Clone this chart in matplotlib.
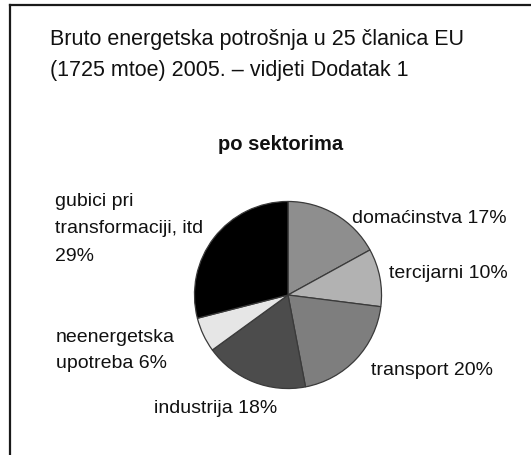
import matplotlib
matplotlib.use("Agg")
import matplotlib.pyplot as plt
from matplotlib.lines import Line2D

W, H = 531, 456
DPI = 100

# Data
sectors = ["domaćinstva", "tercijarni", "transport", "industrija",
           "neenergetska upotreba", "gubici pri transformaciji, itd"]
shares = [17, 10, 20, 18, 6, 29]
colors = ["#8e8e8e", "#b2b2b2", "#7e7e7e", "#4c4c4c", "#e6e6e6", "#000000"]

title_lines = ["Bruto energetska potrošnja u 25 članica EU",
               "(1725 mtoe) 2005. – vidjeti Dodatak 1"]
subtitle = "po sektorima"
label_lines = [
    ["domaćinstva 17%"],
    ["tercijarni 10%"],
    ["transport 20%"],
    ["industrija 18%"],
    ["neenergetska", "upotreba 6%"],
    ["gubici pri", "transformaciji, itd", "29%"],
]
# label anchor (left x, first baseline y) in pixels from top-left
label_pos = [(352, 223), (389, 278), (371, 375), (154, 413), (56, 342), (55, 206)]
label_step = [0, 0, 0, 0, 25.5, 27.5]

plt.rcParams["font.family"] = ["Liberation Sans", "DejaVu Sans"]

fig = plt.figure(figsize=(W / DPI, H / DPI), dpi=DPI)
fig.patch.set_facecolor("white")


def fx(x):
    return x / W


def fy(y):
    return 1 - y / H


# frame
fig.add_artist(Line2D([fx(10), fx(10)], [fy(6), fy(H + 2)], color="#1a1a1a", lw=1.6,
                      transform=fig.transFigure))
fig.add_artist(Line2D([fx(10), fx(W + 2)], [fy(6), fy(6)], color="#1a1a1a", lw=1.6,
                      transform=fig.transFigure))

# titles
fig.text(fx(50), fy(45), title_lines[0], fontsize=15.5, ha="left", va="baseline", color="#111111")
fig.text(fx(50), fy(76), title_lines[1], fontsize=15.5, ha="left", va="baseline", color="#111111")
fig.text(fx(280.5), fy(150), subtitle, fontsize=14.5, fontweight="bold", ha="center",
         va="baseline", color="#111111")

# pie
cx, cy, r = 288, 296, 94
ax = fig.add_axes([fx(cx - r), fy(cy + r), 2 * r / W, 2 * r / H])
ax.pie(shares, colors=colors, startangle=90, counterclock=False,
       wedgeprops=dict(edgecolor="#3a3a3a", linewidth=0.9))
ax.set_xlim(-1.005, 1.005)
ax.set_ylim(-1.005, 1.005)
ax.set_aspect("auto")
ax.axis("off")

# labels
for lines, (lx, ly), step in zip(label_lines, label_pos, label_step):
    for i, line in enumerate(lines):
        fig.text(fx(lx), fy(ly + i * step), line, fontsize=14, ha="left",
                 va="baseline", color="#111111")

fig.savefig("out.png", dpi=DPI, facecolor="white")
